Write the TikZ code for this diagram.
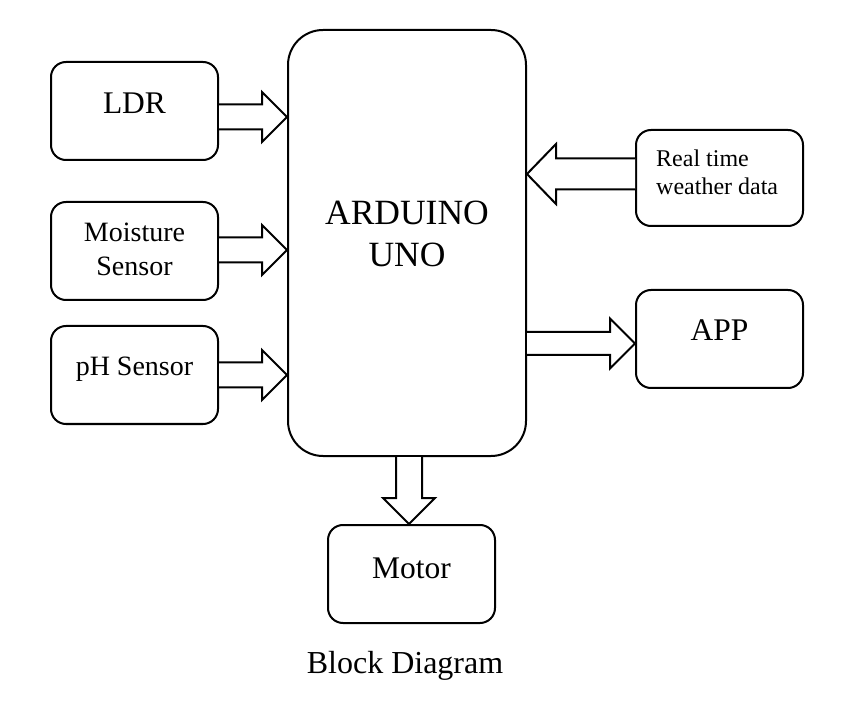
\documentclass[tikz,border=0pt]{standalone}
\usepackage{fontspec}
\setmainfont{Liberation Serif}
\usetikzlibrary{calc}
% block arrows: right, left, down
\newcommand\barrowR[5]{\draw[blockarrow] let \p1=(#1), \p2=(#2) in
  (\x1,\y1+#3) -- (\x2-#5,\y1+#3) -- (\x2-#5,\y1+#4) -- (\x2,\y1)
  -- (\x2-#5,\y1-#4) -- (\x2-#5,\y1-#3) -- (\x1,\y1-#3);}
\newcommand\barrowL[5]{\draw[blockarrow] let \p1=(#1), \p2=(#2) in
  (\x1,\y1+#3) -- (\x2+#5,\y1+#3) -- (\x2+#5,\y1+#4) -- (\x2,\y1)
  -- (\x2+#5,\y1-#4) -- (\x2+#5,\y1-#3) -- (\x1,\y1-#3);}
\newcommand\barrowD[5]{\draw[blockarrow] let \p1=(#1), \p2=(#2) in
  (\x1-#3,\y1) -- (\x1-#3,\y2+#5) -- (\x1-#4,\y2+#5) -- (\x1,\y2)
  -- (\x1+#4,\y2+#5) -- (\x1+#3,\y2+#5) -- (\x1+#3,\y1);}
\begin{document}
\begin{tikzpicture}[x=1pt,y=-1pt,
  box/.style={draw, line width=2pt, rounded corners=15pt, minimum width=167pt, minimum height=98pt, inner sep=0pt},
  bigbox/.style={draw, line width=2pt, rounded corners=35pt, minimum width=238pt, minimum height=426pt, inner sep=0pt},
  blockarrow/.style={draw, line width=2pt, line join=miter, fill=white},
  lbl/.style={inner sep=0pt, anchor=base},
  fA/.style={font=\fontsize{31.5}{37}\selectfont},
  fB/.style={font=\fontsize{28}{33}\selectfont},
  fC/.style={font=\fontsize{35.5}{42}\selectfont},
  fD/.style={font=\fontsize{24}{29}\selectfont},
  fE/.style={font=\fontsize{32}{38}\selectfont}]
\useasboundingbox (0,0) rectangle (860,719);
\fill[white] (0,0) rectangle (860,719);

% boxes
\node[box] (ldr) at (134.5,111) {};
\node[box] (moist) at (134.5,251) {};
\node[box] (ph) at (134.5,375) {};
\node[bigbox] (ard) at (407,243) {};
\node[box, minimum height=96pt] (wx) at (719.5,178) {};
\node[box] (app) at (719.5,339) {};
\node[box] (motor) at (411.5,574) {};

% texts
\node[lbl, fA] (ldrT) at (134.5,114) {LDR};
\node[lbl, fB] (moistT1) at (134.5,242) {Moisture};
\node[lbl, fB] (moistT2) at (134.5,276) {Sensor};
\node[lbl, fB] (phT) at (134.5,376) {pH Sensor};
\node[lbl, fC] (ardT1) at (407,225) {ARDUINO};
\node[lbl, fC] (ardT2) at (407,267) {UNO};
\node[lbl, fD, anchor=base west] (wxT1) at (656,167) {Real time};
\node[lbl, fD, anchor=base west] (wxT2) at (656,195) {weather data};
\node[lbl, fA] (appT) at (719.5,341) {APP};
\node[lbl, fA] (motorT) at (411.5,578) {Motor};
\node[lbl, fE] (cap) at (405,673) {Block Diagram};

% connectors
\coordinate (s1) at ([yshift=-6pt]ldr.east);
\coordinate (s2) at ([yshift=1pt]moist.east);
\coordinate (s3) at (ph.east);
\coordinate (s4) at ([yshift=4pt]wx.west);
\coordinate (s5) at ([yshift=-4.5pt]ard.east |- app.west);
\coordinate (s6) at ([xshift=-2.5pt]ard.south -| motor.north);
\barrowR{s1}{ard.west |- s1}{12.5pt}{25pt}{25pt}
\barrowR{s2}{ard.west |- s2}{12.5pt}{25pt}{25pt}
\barrowR{s3}{ard.west |- s3}{12.5pt}{25pt}{25pt}
\barrowL{s4}{ard.east |- s4}{15.5pt}{30pt}{29pt}
\barrowR{s5}{app.west |- s5}{11.5pt}{25pt}{25pt}
\barrowD{s6}{motor.north -| s6}{13pt}{26pt}{26pt}
\end{tikzpicture}
\end{document}
